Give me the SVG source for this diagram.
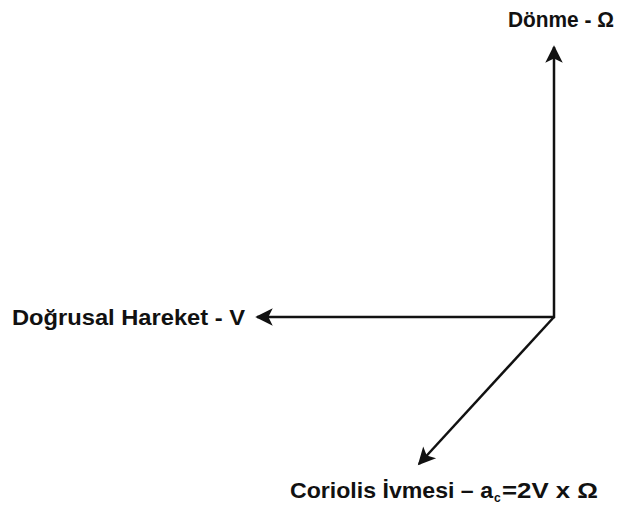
<svg xmlns="http://www.w3.org/2000/svg" width="629" height="510" viewBox="0 0 629 510">
<defs>
<style>
.lbl{font-family:"Liberation Sans",Arial,sans-serif;font-weight:bold;font-size:22px;fill:#111;}
.sub{font-family:"Liberation Sans",Arial,sans-serif;font-weight:bold;font-size:12px;fill:#111;}
.ln{stroke:#111;stroke-width:2.5;fill:none;}
</style>
<marker id="ah" viewBox="0 0 10 10" refX="9" refY="5" markerWidth="8" markerHeight="7" markerUnits="strokeWidth" orient="auto">
<path d="M0,0 L10,5 L0,10 L2.5,5 Z" fill="#111"/>
</marker>
</defs>
<rect width="629" height="510" fill="#fff"/>
<g id="connectors">
<line class="ln" x1="554" y1="318" x2="554" y2="47" marker-end="url(#ah)"/>
<line class="ln" x1="555" y1="317" x2="257" y2="317" marker-end="url(#ah)"/>
<line class="ln" x1="554" y1="317" x2="419" y2="464" marker-end="url(#ah)"/>
</g>
<g id="node-donme"><text class="lbl" x="508" y="27" textLength="106" lengthAdjust="spacingAndGlyphs">Dönme - Ω</text></g>
<g id="node-dogrusal"><text class="lbl" x="12" y="325" textLength="233" lengthAdjust="spacingAndGlyphs">Doğrusal Hareket - V</text></g>
<g id="node-coriolis">
<text class="lbl" x="290" y="498" textLength="203" lengthAdjust="spacingAndGlyphs">Coriolis İvmesi – a</text>
<text class="sub" x="494" y="502">c</text>
<text class="lbl" x="502" y="498" textLength="96" lengthAdjust="spacingAndGlyphs">=2V x Ω</text>
</g>
</svg>
